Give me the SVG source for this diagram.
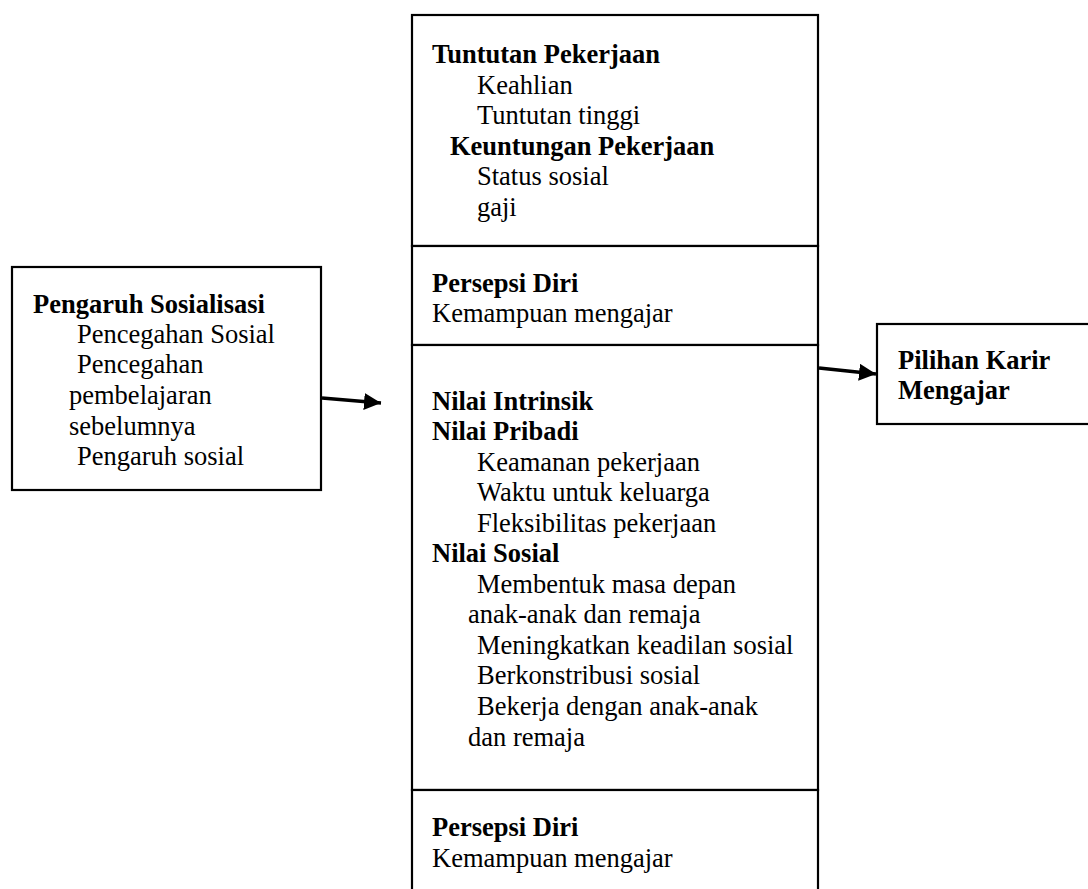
<svg xmlns="http://www.w3.org/2000/svg" width="1088" height="889" viewBox="0 0 1088 889">
<defs>
<style>
.box{fill:#fff;stroke:#000;stroke-width:2.2}
text{font-family:"Liberation Serif","Times New Roman",serif;font-size:26.5px;fill:#000}
.b{font-weight:bold}
.conn{stroke:#000;stroke-width:3.5;fill:none}
</style>
<marker id="ah" markerUnits="userSpaceOnUse" markerWidth="20" markerHeight="20" refX="17" refY="8.5" orient="auto">
<path d="M0,0 L17,8.5 L0,17 Z" fill="#000"/>
</marker>
</defs>
<rect width="1088" height="889" fill="#fff"/>
<g id="pengaruh">
<rect class="box" x="12" y="267" width="309" height="223"/>
<text x="33" y="313" class="b">Pengaruh Sosialisasi</text>
<text x="77" y="343">Pencegahan Sosial</text>
<text x="77" y="373">Pencegahan</text>
<text x="69" y="404">pembelajaran</text>
<text x="69" y="435">sebelumnya</text>
<text x="77" y="465">Pengaruh sosial</text>
</g>
<g id="tuntutan">
<rect class="box" x="412" y="15" width="406" height="231"/>
<text x="432" y="63" class="b">Tuntutan Pekerjaan</text>
<text x="477" y="94">Keahlian</text>
<text x="477" y="124">Tuntutan tinggi</text>
<text x="450" y="155" class="b">Keuntungan Pekerjaan</text>
<text x="477" y="185">Status sosial</text>
<text x="477" y="216">gaji</text>
</g>
<g id="persepsi1">
<rect class="box" x="412" y="246" width="406" height="99"/>
<text x="432" y="292" class="b">Persepsi Diri</text>
<text x="432" y="322">Kemampuan mengajar</text>
</g>
<g id="nilai">
<rect class="box" x="412" y="345" width="406" height="445"/>
<text x="432" y="410" class="b">Nilai Intrinsik</text>
<text x="432" y="440" class="b">Nilai Pribadi</text>
<text x="477" y="471">Keamanan pekerjaan</text>
<text x="477" y="501">Waktu untuk keluarga</text>
<text x="477" y="532">Fleksibilitas pekerjaan</text>
<text x="432" y="562" class="b">Nilai Sosial</text>
<text x="477" y="593">Membentuk masa depan</text>
<text x="468" y="623">anak-anak dan remaja</text>
<text x="477" y="654">Meningkatkan keadilan sosial</text>
<text x="477" y="684">Berkonstribusi sosial</text>
<text x="477" y="715">Bekerja dengan anak-anak</text>
<text x="468" y="746">dan remaja</text>
</g>
<g id="persepsi2">
<rect class="box" x="412" y="790" width="406" height="120"/>
<text x="432" y="836" class="b">Persepsi Diri</text>
<text x="432" y="867">Kemampuan mengajar</text>
</g>
<g id="pilihan">
<rect class="box" x="877" y="324" width="230" height="100"/>
<text x="898" y="369" class="b">Pilihan Karir</text>
<text x="898" y="399" class="b">Mengajar</text>
</g>
<g id="connectors">
<line class="conn" x1="322" y1="398" x2="381" y2="403" marker-end="url(#ah)"/>
<line class="conn" x1="819" y1="368" x2="876" y2="374" marker-end="url(#ah)"/>
</g>
</svg>
